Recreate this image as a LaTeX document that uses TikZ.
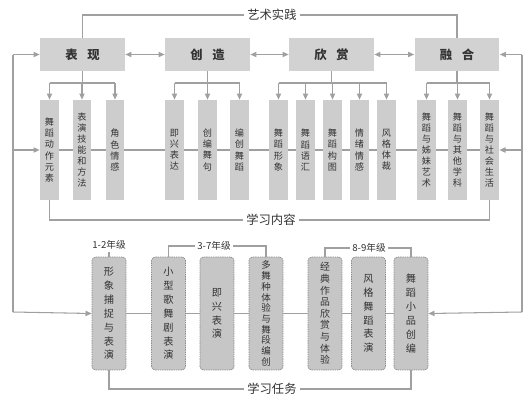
\documentclass[tikz,border=0pt]{standalone}
\usepackage{fontspec}
\setmainfont{Noto Sans CJK SC}
\usetikzlibrary{arrows.meta,backgrounds}
\definecolor{linegray}{HTML}{A0A0A0}
\definecolor{boxgray}{HTML}{D2D2D2}
\definecolor{subgray}{HTML}{CDCDCD}
\definecolor{taskgray}{HTML}{C6C6C6}
\definecolor{taskedge}{HTML}{8C8C8C}
\definecolor{txt}{HTML}{333333}
\begin{document}
\begin{tikzpicture}[x=0.02cm,y=-0.02cm,
  lin/.style={draw=linegray, line width=0.6pt},
  arr/.style={lin, -{Triangle[length=3.5pt,width=3pt]}},
  darr/.style={lin, {Triangle[length=3.5pt,width=3pt]}-{Triangle[length=3.5pt,width=3pt]}},
  topbox/.style={fill=boxgray, draw=none, minimum width=1.7cm, minimum height=0.66cm, inner sep=0pt, text=txt, font=\fontsize{7}{8}\selectfont\bfseries},
  subbox/.style={fill=subgray, draw=none, minimum width=0.38cm, minimum height=2cm, inner sep=0pt, align=center, text=txt, font=\fontsize{5.2}{6.3}\selectfont},
  taskbox/.style={fill=taskgray, draw=taskedge, line width=0.4pt, dash pattern=on 0.8pt off 0.5pt, rounded corners=2pt, minimum width=0.68cm, minimum height=2.26cm, inner sep=0pt, align=center, text=txt, font=\fontsize{5.8}{7.9}\selectfont},
  tight/.style={font=\fontsize{5.4}{6.1}\selectfont},
  tighter/.style={font=\fontsize{5.6}{6.6}\selectfont},
  lab/.style={fill=white, inner sep=1.5pt, text=txt, font=\fontsize{7}{8}\selectfont},
  glab/.style={fill=white, inner sep=1pt, text=txt, font=\fontsize{5.5}{6}\selectfont}]
\useasboundingbox (0,0) rectangle (525,400);

% top boxes
\node[topbox] (t1) at (82.5,54.5) {表\hspace{0.8em}现};
\node[topbox] (t2) at (207.5,54.5) {创\hspace{0.8em}造};
\node[topbox] (t3) at (331.5,54.5) {欣\hspace{0.8em}赏};
\node[topbox] (t4) at (457,54.5) {融\hspace{0.8em}合};

% sub boxes
\node[subbox] (c1) at (49.5,150) {舞\\蹈\\动\\作\\元\\素};
\node[subbox] (c2) at (82,150) {表\\演\\技\\能\\和\\方\\法};
\node[subbox] (c3) at (115,150) {角\\色\\情\\感};
\node[subbox] (c4) at (174.5,150) {即\\兴\\表\\达};
\node[subbox] (c5) at (207.5,150) {创\\编\\舞\\句};
\node[subbox] (c6) at (239.5,150) {编\\创\\舞\\蹈};
\node[subbox] (c7) at (278.5,150) {舞\\蹈\\形\\象};
\node[subbox] (c8) at (305.5,150) {舞\\蹈\\语\\汇};
\node[subbox] (c9) at (332.5,150) {舞\\蹈\\构\\图};
\node[subbox] (c10) at (359.5,150) {情\\绪\\情\\感};
\node[subbox] (c11) at (386.5,150) {风\\格\\体\\裁};
\node[subbox] (c12) at (426.5,150) {舞\\蹈\\与\\姊\\妹\\艺\\术};
\node[subbox] (c13) at (457.5,150) {舞\\蹈\\与\\其\\他\\学\\科};
\node[subbox] (c14) at (489.5,150) {舞\\蹈\\与\\社\\会\\生\\活};

% task boxes
\node[taskbox] (d1) at (109,313.5) {形\\象\\捕\\捉\\与\\表\\演};
\node[taskbox] (d2) at (168.5,313.5) {小\\型\\歌\\舞\\剧\\表\\演};
\node[taskbox] (d3) at (217,313.5) {即\\兴\\表\\演};
\node[taskbox,tight] (d4) at (266,313.5) {多\\舞\\种\\体\\验\\与\\舞\\段\\编\\创};
\node[taskbox,tighter] (d5) at (325,313.5) {经\\典\\作\\品\\欣\\赏\\与\\体\\验};
\node[taskbox] (d6) at (368.5,313.5) {风\\格\\舞\\蹈\\表\\演};
\node[taskbox] (d7) at (411,313.5) {舞\\蹈\\小\\品\\创\\编};

% labels
\node[lab] (art) at (272,15) {艺术实践};
\node[lab] (content) at (271,220) {学习内容};
\node[lab] (task) at (272,389) {学习任务};
\node[glab] (g1) at (109,245) {1-2年级};
\node[glab] (g2) at (214,246) {3-7年级};
\node[glab] (g3) at (369,248) {8-9年级};

\coordinate (LT) at (13,54.5);
\coordinate (LM) at (13,150);
\coordinate (LB) at (13,312);
\coordinate (RT) at (522,54.5);
\coordinate (RM) at (522,150);
\coordinate (RB) at (522,312);
\coordinate (bus) at (0,83);

\begin{scope}[on background layer]
  \draw[lin] (c1.center) -- (c14.center);
  \draw[lin] (d1.center) -- (d7.center);
\end{scope}

% top connections
\draw[lin] (t1.north) |- (art.west);
\draw[lin] (art.east) -| (t4.north);
\draw[darr] (t1.east) -- (t2.west);
\draw[darr] (t2.east) -- (t3.west);
\draw[darr] (t3.east) -- (t4.west);

% buses
\foreach \t/\a/\b/\list in {t1/c1/c3/{c1,c2,c3}, t2/c4/c6/{c4,c5,c6}, t3/c7/c11/{c7,c8,c9,c10,c11}, t4/c12/c14/{c12,c13,c14}}{
  \draw[lin] (\t.south) -- (\t.south|-bus);
  \draw[lin] (\a.north|-bus) -- (\b.north|-bus);
  \foreach \c in \list { \draw[arr] (\c.north|-bus) -- (\c.north); }
}

% side lines
\draw[lin] (LB) -- (LT);
\draw[arr] (LT) -- (t1.west);
\draw[arr] (LM) -- (c1.west);
\draw[arr] (LB) -- (d1.west);
\draw[lin] (RB) -- (RT);
\draw[arr] (RT) -- (t4.east);
\draw[arr] (RM) -- (c14.east);
\draw[arr] (RB) -- (d7.east);

% content
\draw[lin] (c1.south) |- (content.west);
\draw[lin] (content.east) -| (c14.south);

% grades
\draw[lin] (g1.south) -- (d1.north);
\draw[lin] (g2.west) -| (d2.north);
\draw[lin] (g2.east) -| (d4.north);
\draw[lin] (g3.west) -| (d5.north);
\draw[lin] (g3.east) -| (d7.north);

% task
\draw[lin] (d1.south) |- (task.west);
\draw[lin] (task.east) -| (d7.south);
\end{tikzpicture}
\end{document}
